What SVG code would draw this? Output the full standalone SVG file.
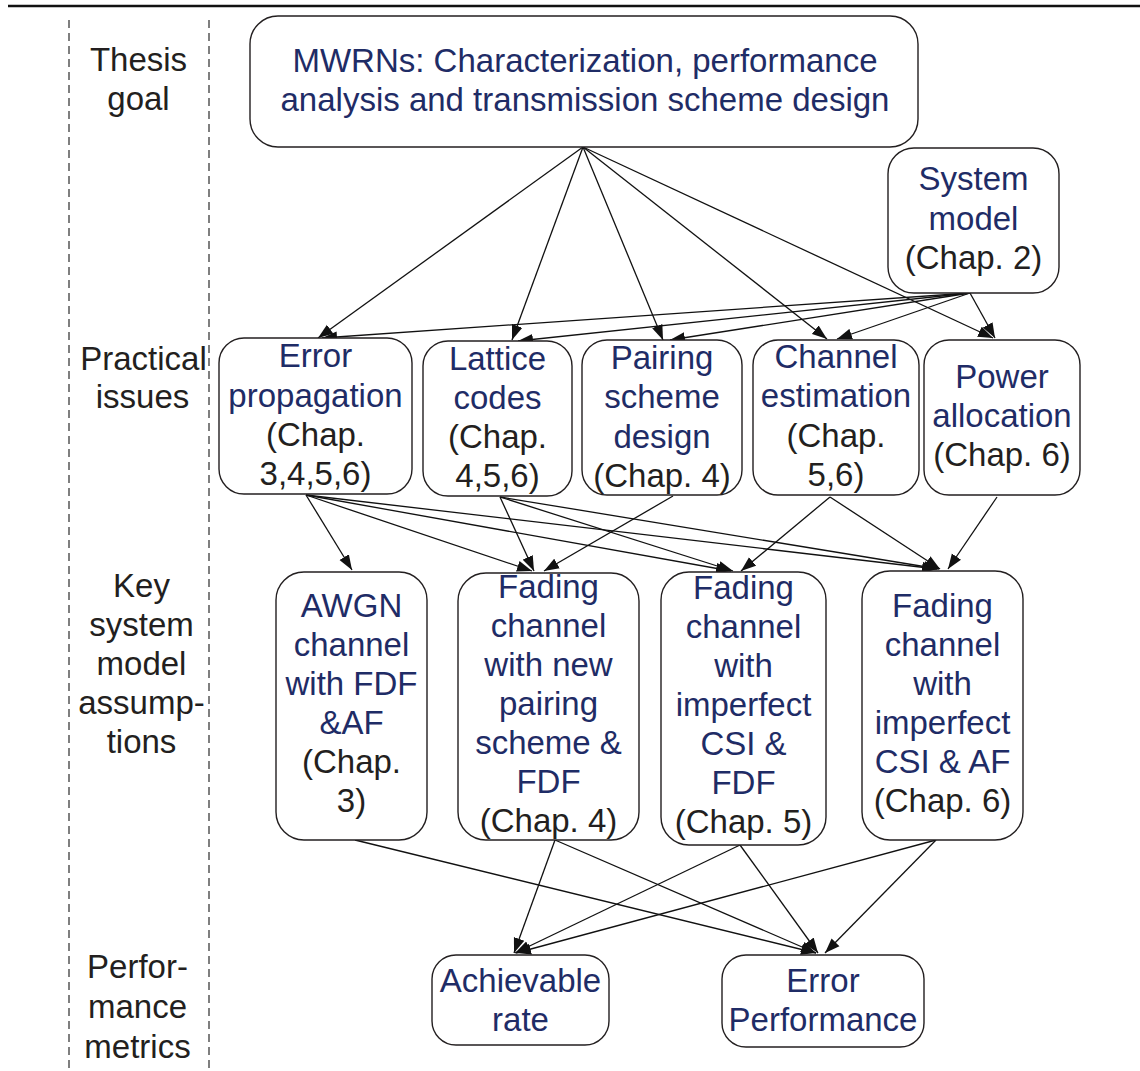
<svg xmlns="http://www.w3.org/2000/svg" width="1140" height="1071" viewBox="0 0 1140 1071">
  <style>
    .box { fill: #ffffff; stroke: #231f20; stroke-width: 1.4; }
    .t { font-family: "Liberation Sans", Arial, sans-serif; font-size: 33px; text-anchor: middle; }
    .blue { fill: #1f2c66; }
    .dark { fill: #231f20; }
    .edge { stroke: #111111; stroke-width: 1.3; fill: none; marker-end: url(#head); }
    .guide { stroke: #555555; stroke-width: 1.5; stroke-dasharray: 8 5; fill: none; }
  </style>
  <defs>
    <marker id="head" markerUnits="userSpaceOnUse" markerWidth="16" markerHeight="12" refX="15" refY="6" orient="auto">
      <path d="M0,0.5 L15,6 L0,11.5 Z" fill="#111111"/>
    </marker>
  </defs>

  <rect width="1140" height="1071" fill="#ffffff"/>

  <!-- header rule and column guides -->
  <line x1="8" y1="6" x2="1140" y2="6" stroke="#111111" stroke-width="2.5"/>
  <line class="guide" x1="69" y1="20" x2="69" y2="1071"/>
  <line class="guide" x1="209" y1="20" x2="209" y2="1071"/>

  <!-- row labels -->
  <g id="label-goal" class="t dark">
    <text x="138.5" y="71">Thesis</text>
    <text x="138.5" y="110">goal</text>
  </g>
  <g id="label-issues" class="t dark">
    <text x="143.5" y="370">Practical</text>
    <text x="142.5" y="408">issues</text>
  </g>
  <g id="label-assumptions" class="t dark">
    <text x="141.5" y="597">Key</text>
    <text x="141.5" y="636">system</text>
    <text x="141.5" y="675">model</text>
    <text x="141.5" y="714">assump-</text>
    <text x="141.5" y="753">tions</text>
  </g>
  <g id="label-metrics" class="t dark">
    <text x="137.5" y="978">Perfor-</text>
    <text x="137.5" y="1018">mance</text>
    <text x="137.5" y="1058">metrics</text>
  </g>

  <!-- connectors -->
  <g id="connectors">
    <line class="edge" x1="583" y1="147" x2="318" y2="338"/>
    <line class="edge" x1="583" y1="147" x2="512" y2="340"/>
    <line class="edge" x1="583" y1="147" x2="663" y2="340"/>
    <line class="edge" x1="583" y1="147" x2="827" y2="339"/>
    <line class="edge" x1="583" y1="147" x2="993" y2="338"/>

    <line class="edge" x1="970" y1="293" x2="322" y2="338"/>
    <line class="edge" x1="970" y1="293" x2="518" y2="341"/>
    <line class="edge" x1="970" y1="293" x2="670" y2="340"/>
    <line class="edge" x1="970" y1="293" x2="837" y2="339"/>
    <line class="edge" x1="970" y1="293" x2="995" y2="338"/>

    <line class="edge" x1="306" y1="495" x2="352" y2="570"/>
    <line class="edge" x1="306" y1="495" x2="532" y2="571"/>
    <line class="edge" x1="306" y1="495" x2="731" y2="571"/>
    <line class="edge" x1="306" y1="495" x2="937" y2="569"/>

    <line class="edge" x1="500" y1="497" x2="534" y2="571"/>
    <line class="edge" x1="500" y1="497" x2="733" y2="571"/>
    <line class="edge" x1="500" y1="497" x2="939" y2="569"/>

    <line class="edge" x1="673" y1="496" x2="544" y2="571"/>

    <line class="edge" x1="830" y1="497" x2="741" y2="571"/>
    <line class="edge" x1="830" y1="497" x2="940" y2="569"/>

    <line class="edge" x1="997" y1="497" x2="948" y2="569"/>

    <line class="edge" x1="355" y1="840" x2="816" y2="953"/>
    <line class="edge" x1="555" y1="840" x2="514" y2="953"/>
    <line class="edge" x1="555" y1="840" x2="816" y2="953"/>
    <line class="edge" x1="740" y1="845" x2="515" y2="953"/>
    <line class="edge" x1="740" y1="845" x2="818" y2="953"/>
    <line class="edge" x1="936" y1="840" x2="516" y2="953"/>
    <line class="edge" x1="936" y1="840" x2="825" y2="953"/>
  </g>

  <!-- thesis goal -->
  <g id="node-goal">
    <rect class="box" x="250" y="16" width="668" height="131" rx="28"/>
    <text class="t blue" x="585" y="72">MWRNs: Characterization, performance</text>
    <text class="t blue" x="585" y="111">analysis and transmission scheme design</text>
  </g>

  <g id="node-system-model">
    <rect class="box" x="888" y="148" width="171" height="145" rx="26"/>
    <text class="t blue" x="973.5" y="190">System</text>
    <text class="t blue" x="973.5" y="230">model</text>
    <text class="t dark" x="973.5" y="269">(Chap. 2)</text>
  </g>

  <!-- practical issues -->
  <g id="node-error-propagation">
    <rect class="box" x="219" y="338" width="193" height="156" rx="25"/>
    <text class="t blue" x="315.5" y="367">Error</text>
    <text class="t blue" x="315.5" y="407">propagation</text>
    <text class="t dark" x="315.5" y="446">(Chap.</text>
    <text class="t dark" x="315.5" y="485">3,4,5,6)</text>
  </g>

  <g id="node-lattice-codes">
    <rect class="box" x="423" y="341" width="149" height="155" rx="25"/>
    <text class="t blue" x="497.5" y="370">Lattice</text>
    <text class="t blue" x="497.5" y="409">codes</text>
    <text class="t dark" x="497.5" y="448">(Chap.</text>
    <text class="t dark" x="497.5" y="487">4,5,6)</text>
  </g>

  <g id="node-pairing-scheme">
    <rect class="box" x="582" y="340" width="160" height="155" rx="25"/>
    <text class="t blue" x="662" y="369">Pairing</text>
    <text class="t blue" x="662" y="408">scheme</text>
    <text class="t blue" x="662" y="448">design</text>
    <text class="t dark" x="662" y="487">(Chap. 4)</text>
  </g>

  <g id="node-channel-estimation">
    <rect class="box" x="753" y="340" width="166" height="155" rx="25"/>
    <text class="t blue" x="836" y="368">Channel</text>
    <text class="t blue" x="836" y="407">estimation</text>
    <text class="t dark" x="836" y="447">(Chap.</text>
    <text class="t dark" x="836" y="486">5,6)</text>
  </g>

  <g id="node-power-allocation">
    <rect class="box" x="924" y="340" width="156" height="155" rx="25"/>
    <text class="t blue" x="1002" y="388">Power</text>
    <text class="t blue" x="1002" y="427">allocation</text>
    <text class="t dark" x="1002" y="466">(Chap. 6)</text>
  </g>

  <!-- key system model assumptions -->
  <g id="node-awgn">
    <rect class="box" x="276" y="572" width="151" height="268" rx="28"/>
    <text class="t blue" x="351.5" y="617">AWGN</text>
    <text class="t blue" x="351.5" y="656">channel</text>
    <text class="t blue" x="351.5" y="695">with FDF</text>
    <text class="t blue" x="351.5" y="734">&amp;AF</text>
    <text class="t dark" x="351.5" y="773">(Chap.</text>
    <text class="t dark" x="351.5" y="812">3)</text>
  </g>

  <g id="node-fading-pairing">
    <rect class="box" x="458" y="573" width="181" height="267" rx="28"/>
    <text class="t blue" x="548.5" y="598">Fading</text>
    <text class="t blue" x="548.5" y="637">channel</text>
    <text class="t blue" x="548.5" y="676">with new</text>
    <text class="t blue" x="548.5" y="715">pairing</text>
    <text class="t blue" x="548.5" y="754">scheme &amp;</text>
    <text class="t blue" x="548.5" y="793">FDF</text>
    <text class="t dark" x="548.5" y="832">(Chap. 4)</text>
  </g>

  <g id="node-fading-csi-fdf">
    <rect class="box" x="661" y="572" width="165" height="273" rx="28"/>
    <text class="t blue" x="743.5" y="599">Fading</text>
    <text class="t blue" x="743.5" y="638">channel</text>
    <text class="t blue" x="743.5" y="677">with</text>
    <text class="t blue" x="743.5" y="716">imperfect</text>
    <text class="t blue" x="743.5" y="755">CSI &amp;</text>
    <text class="t blue" x="743.5" y="794">FDF</text>
    <text class="t dark" x="743.5" y="833">(Chap. 5)</text>
  </g>

  <g id="node-fading-csi-af">
    <rect class="box" x="862" y="571" width="161" height="269" rx="28"/>
    <text class="t blue" x="942.5" y="617">Fading</text>
    <text class="t blue" x="942.5" y="656">channel</text>
    <text class="t blue" x="942.5" y="695">with</text>
    <text class="t blue" x="942.5" y="734">imperfect</text>
    <text class="t blue" x="942.5" y="773">CSI &amp; AF</text>
    <text class="t dark" x="942.5" y="812">(Chap. 6)</text>
  </g>

  <!-- performance metrics -->
  <g id="node-achievable-rate">
    <rect class="box" x="432" y="955" width="177" height="90" rx="24"/>
    <text class="t blue" x="520.5" y="992">Achievable</text>
    <text class="t blue" x="520.5" y="1031">rate</text>
  </g>

  <g id="node-error-performance">
    <rect class="box" x="722" y="955" width="202" height="92" rx="24"/>
    <text class="t blue" x="823" y="992">Error</text>
    <text class="t blue" x="823" y="1031">Performance</text>
  </g>
</svg>
